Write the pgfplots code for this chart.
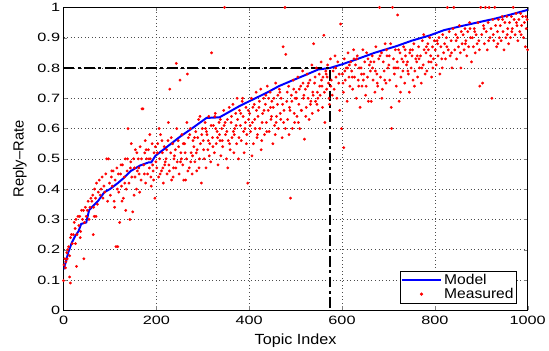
\documentclass[border=0pt]{standalone}
\usepackage{pgfplots}
\pgfplotsset{compat=1.18}
\usepackage{fontspec}
\setmainfont{Liberation Sans}
\newfontfamily\tickfont{Liberation Sans}[FakeStretch=1.35]
\newfontfamily\labfont{Liberation Sans}[FakeStretch=1.1]
\begin{document}
\begin{tikzpicture}
\begin{axis}[
 width=472bp, height=308bp, scale only axis,
 xmin=0, xmax=1000, ymin=0, ymax=1,
 xtick={0,200,400,600,800,1000},
 ytick={0,0.1,0.2,0.3,0.4,0.5,0.6,0.7,0.8,0.9,1},
 yticklabels={0,0.1,0.2,0.3,0.4,0.5,0.6,0.7,0.8,0.9,1},
 xticklabels={0,200,400,600,800,1000},
 tick label style={font=\fontsize{12.3}{13}\tickfont},
 xticklabel style={yshift=-2bp},
 /pgf/number format/assume math mode=true,
 xtick pos=both, ytick pos=both, tick align=inside,
 major tick length=4bp,
 grid=major, grid style={black!70, line width=0.5pt, dash pattern=on 0.6bp off 3bp},
 axis line style={black, line width=0.8pt},
 xlabel={Topic Index}, ylabel={Reply–Rate},
 xlabel style={font=\fontsize{15}{16}\labfont, yshift=-3bp},
 ylabel style={font=\fontsize{15}{16}\selectfont, yshift=4bp},
 legend style={at={(0.977,0.023)}, anchor=south east, draw=black, line width=0.8pt,
   font=\fontsize{14.5}{15}\labfont, inner sep=1bp, row sep=-2bp,
   legend cell align=left},
 legend image code/.code={},
]
\addplot[only marks, mark=*, mark size=1.25bp, red, forget plot] coordinates {
(0,.098)(13,.11)(15,.09)(4,.14)(8,.17)
(1,.15)(3,.17)(5,.16)(7,.19)(9,.2)(11,.21)(13,.18)(15,.24)(17,.25)(19,.22)
(21,.25)(23,.29)(25,.27)(27,.3)(29,.25)(31,.31)(33,.28)(35,.31)(37,.26)(39,.33)
(28,.145)(44,.17)(26,.22)(36,.24)
(41,.3)(43,.33)(45,.29)(47,.34)(49,.31)(51,.33)(53,.36)(55,.3)(57,.34)(59,.37)
(61,.36)(63,.38)(65,.34)(67,.4)(69,.37)(71,.42)(73,.35)(75,.39)(77,.43)(79,.38)
(64,.25)(66,.31)(70,.31)
(81,.4)(83,.44)(85,.37)(87,.41)(89,.39)(91,.45)(93,.5)(95,.36)(97,.5)(99,.42)
(101,.38)(103,.44)(105,.41)(107,.46)(109,.36)(111,.43)(113,.21)(115,.47)(117,.21)(119,.39)
(110,.34)(118,.45)
(121,.29)(123,.45)(125,.41)(127,.48)(129,.37)(131,.44)(133,.5)(135,.4)(137,.46)(139,.6)
(126,.36)(134,.33)
(141,.42)(143,.3)(145,.49)(147,.44)(149,.325)(151,.5)(153,.47)(155,.53)(157,.4)(159,.46)
(146,.55)(152,.38)
(161,.5)(163,.45)(165,.54)(167,.43)(169,.665)(171,.665)(173,.48)(175,.52)(177,.42)(179,.5)
(164,.39)(176,.56)
(181,.45)(183,.53)(185,.47)(187,.5)(189,.41)(191,.55)(193,.46)(195,.52)(197,.37)(199,.49)
(186,.58)(194,.43)
(104,.46)(116,.4)(124,.48)(132,.42)(138,.5)(144,.47)(154,.44)(158,.52)(162,.47)(168,.5)
(174,.45)(178,.53)(184,.5)(188,.44)(192,.48)(198,.54)
(201,.47)(203,.55)(205,.44)(207,.5)(209,.58)(211,.46)(213,.52)(215,.42)(217,.54)(219,.49)
(206,.6)(214,.47)
(221,.5)(223,.45)(225,.56)(227,.48)(229,.73)(231,.52)(233,.43)(235,.55)(237,.47)(239,.51)
(226,.62)(236,.44)
(241,.53)(243,.815)(245,.49)(247,.56)(249,.45)(251,.76)(253,.52)(255,.58)(257,.48)(259,.43)
(244,.6)(254,.5)
(261,.55)(263,.43)(265,.5)(267,.78)(269,.57)(271,.47)(273,.6)(275,.52)(277,.45)(279,.56)
(266,.62)(274,.49)
(281,.54)(283,.49)(285,.59)(287,.46)(289,.57)(291,.63)(293,.5)(295,.55)(297,.42)(299,.6)
(286,.52)(294,.64)
(301,.56)(303,.5)(305,.62)(307,.47)(309,.58)(311,.53)(313,.64)(315,.55)(317,.49)(319,.85)
(306,.6)(314,.51)
(321,.57)(323,.61)(325,.52)(327,.65)(329,.55)(331,.59)(333,.48)(335,.62)(337,.56)(339,.51)
(326,.64)(336,.58)
(341,.6)(343,.54)(345,.66)(347,1.0)(349,.58)(351,.5)(353,.63)(355,.56)(357,.67)(359,.53)
(346,.61)(354,.47)
(361,.62)(363,.57)(365,.68)(367,.52)(369,.6)(371,.65)(373,.55)(375,.63)(377,.5)(379,.66)
(366,.59)(374,.7)
(381,.61)(383,.56)(385,.69)(387,.64)(389,.52)(391,.6)(393,.67)(395,.58)(397,.42)(399,.63)
(386,.7)(394,.55)
(202,.52)(208,.45)(212,.56)(218,.48)(222,.53)(228,.46)(232,.57)(238,.5)(242,.47)(248,.54)
(252,.49)(258,.55)(262,.52)(268,.46)(272,.58)(278,.51)(282,.57)(288,.53)(292,.47)(298,.58)
(302,.53)(308,.59)(312,.56)(318,.61)(322,.54)(328,.6)(332,.57)(338,.63)(342,.56)(348,.62)
(352,.59)(358,.55)(362,.64)(368,.58)(372,.61)(378,.57)(382,.65)(388,.59)(392,.62)(398,.66)
(401,.65)(403,.59)(405,.7)(407,.62)(409,.55)(411,.68)(413,.6)(415,.72)(417,.57)(419,.64)
(406,.51)(416,.66)
(421,.67)(423,.6)(425,.73)(427,.56)(429,.65)(431,.7)(433,.58)(435,.68)(437,.62)(439,.74)
(426,.53)(436,.71)
(441,.66)(443,.59)(445,.72)(447,.63)(449,.69)(451,.55)(453,.7)(455,.61)(457,.75)(459,.64)
(446,.67)(456,.58)
(461,.68)(463,.6)(465,.73)(467,.65)(469,.7)(471,.57)(473,.87)(475,.66)(477,1.0)(479,.845)
(466,.72)(474,.62)
(481,.69)(483,.63)(485,.74)(487,.67)(489,.37)(491,.71)(493,.6)(495,.76)(497,.65)(499,.7)
(486,.58)(496,.73)
(501,.72)(503,.64)(505,.77)(507,.68)(509,.6)(511,.74)(513,.66)(515,.79)(517,.7)(519,.565)
(506,.62)(516,.75)
(521,.73)(523,.67)(525,.78)(527,.7)(529,.63)(531,.76)(533,.69)(535,.81)(537,.72)(539,.88)
(526,.74)(536,.65)
(541,.75)(543,.69)(545,.8)(547,.72)(549,.66)(551,.78)(553,.71)(555,.82)(557,.74)(559,.77)
(546,.68)(556,.76)
(402,.61)(408,.67)(412,.63)(418,.58)(422,.69)(428,.62)(432,.66)(438,.59)(442,.7)(448,.64)
(452,.67)(458,.62)(462,.71)(468,.63)(472,.68)(478,.6)(482,.72)(488,.66)(492,.69)(498,.62)
(502,.7)(508,.73)(512,.66)(518,.71)(522,.64)(528,.75)(532,.68)(538,.71)(542,.77)(548,.7)
(552,.74)(558,.67)(562,.72)(568,.77)(572,.7)
(561,.908)(563,.62)(565,.79)(567,.73)(569,.81)(571,.75)(573,.68)(575,.83)(577,.76)(579,.71)
(566,.78)(576,.74)
(581,.79)(583,.73)(585,.84)(587,.77)(589,.7)(591,.82)(593,.75)(595,.66)(597,.945)(599,.6)
(586,.8)(594,.78)(604,.537)
(601,.78)(603,.72)(605,.83)(607,.76)(609,.8)(611,.69)(613,.85)(615,.77)(617,.74)(619,.82)
(606,.79)(616,.81)
(621,.79)(623,.73)(625,.86)(627,.77)(629,.81)(631,.7)(633,.84)(635,.76)(637,.8)(639,.67)
(626,.83)(636,.74)
(641,.8)(643,.74)(645,.86)(647,.78)(649,.82)(651,.71)(653,.85)(655,.77)(657,.69)(659,.81)
(646,.76)(656,.83)
(661,.79)(663,.69)(665,.84)(667,.76)(669,.82)(671,.72)(673,.87)(675,.78)(677,.74)(679,.83)
(666,.8)(676,.75)
(681,1.0)(683,.77)(685,.85)(687,.73)(689,.82)(691,.79)(693,.88)(695,.75)(697,.84)(699,.8)
(686,.7)(696,.86)
(701,.81)(703,.76)(705,.88)(707,.6)(709,1.0)(711,.83)(713,.78)(715,.86)(717,.74)(719,.82)
(706,.67)(716,.8)(720,.975)
(721,.8)(723,.69)(725,.85)(727,.77)(729,.83)(731,.79)(733,.87)(735,.75)(737,.84)(739,.81)
(726,.72)(736,.86)
(741,.82)(743,.78)(745,.72)(747,.86)(749,.8)(751,.84)(753,.76)(755,.88)(757,.79)(759,.83)
(746,.85)(756,.74)
(761,.82)(763,.77)(765,.87)(767,.8)(769,.84)(771,.75)(773,.89)(775,.81)(777,.86)(779,.78)
(766,.83)(776,.91)
(781,.85)(783,.79)(785,.88)(787,.82)(789,.9)(791,.84)(793,.77)(795,.87)(797,.83)(799,.89)
(786,.86)(796,.8)
(602,.75)(612,.8)(622,.77)(632,.83)(642,.78)(652,.74)(662,.82)(672,.79)(682,.84)(692,.76)
(702,.84)(712,.8)(722,.86)(732,.82)(742,.79)(752,.86)(762,.84)(772,.8)(782,.87)(792,.82)
(801,.86)(803,.81)(805,.89)(807,.84)(809,.9)(811,.78)(813,.87)(815,.83)(817,.91)(819,.85)
(806,.88)(816,.8)
(821,.88)(823,.83)(825,.9)(827,1.0)(829,.86)(831,.92)(833,.84)(835,.89)(837,.8)(839,.93)
(826,.87)(836,.85)
(841,1.0)(843,.86)(845,.91)(847,.83)(849,.9)(851,.87)(853,.94)(855,.85)(857,.92)(859,.88)
(846,.89)(856,.8)
(861,.91)(863,.86)(865,.93)(867,.89)(869,.84)(871,.92)(873,.87)(875,.95)(877,.9)(879,.82)
(866,.88)(876,.93)
(881,.9)(883,.87)(885,.93)(887,.85)(889,.91)(891,.88)(893,.95)(895,.89)(897,.74)(899,1.0)
(886,.92)(896,.86)
(901,.91)(903,.75)(905,.94)(907,.88)(909,1.0)(911,.92)(913,.86)(915,.95)(917,1.0)(919,.9)
(906,.93)(916,.89)
(921,.93)(923,.7)(925,.96)(927,.89)(929,1.0)(931,.94)(933,.87)(935,.92)(937,.96)(939,.9)
(926,.91)(936,.88)
(941,.94)(943,.89)(945,.97)(947,.92)(949,.86)(951,.95)(953,.9)(955,.97)(957,.93)(959,.88)
(946,.96)(956,.91)
(961,.95)(963,.9)(965,.97)(967,.93)(969,1.0)(971,.96)(973,.91)(975,.98)(977,.94)(979,.89)
(966,.92)(976,.95)
(981,.96)(983,.92)(985,.98)(987,.94)(989,.97)(991,.9)(993,.95)(995,.87)(997,.93)(999,.96)
(986,.91)(996,.97)(1000,.86)
};
\addplot[blue, line width=2bp, forget plot] coordinates {
(0,.135)(5,.16)(10,.19)(17,.22)(25,.245)(32,.26)(38,.285)(49,.29)(55,.33)(64,.345)(74,.36)(88,.39)
(100,.40)(117,.42)(130,.437)(145,.46)(165,.478)(183,.488)(189,.488)(198,.51)(225,.542)
(251,.573)(280,.604)(308,.635)(336,.637)(357,.655)(380,.675)(400,.69)(420,.705)(440,.72)(464,.74)
(490,.757)(520,.776)(549,.795)(574,.80)(600,.812)(634,.83)(670,.85)(719,.873)(750,.89)
(790,.908)(820,.925)(862,.94)(900,.953)(930,.963)(960,.975)(996,.99)(1000,.992)
};
\addplot[black, line width=2.4bp, dash pattern=on 11bp off 3.5bp on 3bp off 3.5bp, forget plot]
 coordinates {(0,0.8)(574,0.8)(574,0)};
\addlegendimage{legend image code/.code={\draw[blue, line width=2bp] (0bp,0bp) -- (40bp,0bp);}}
\addlegendentry{Model}
\addlegendimage{legend image code/.code={\fill[red] (20bp,0bp) circle (1.2bp);}}
\addlegendentry{Measured}
\end{axis}
\path (current axis.outer west) ++(-10bp,0bp);
\end{tikzpicture}
\end{document}
